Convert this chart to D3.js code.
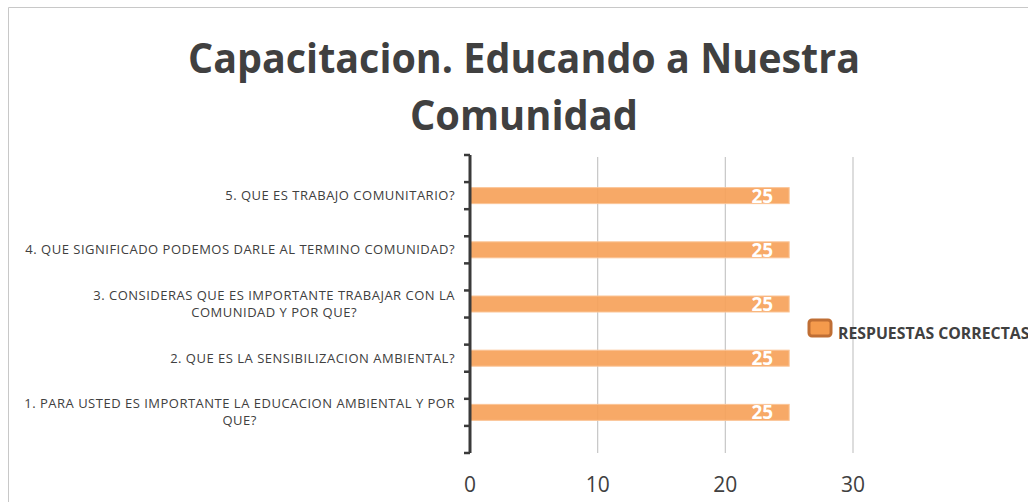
<!DOCTYPE html>
<html>
<head>
<meta charset="utf-8">
<script src="https://cdn.jsdelivr.net/npm/d3@7"></script>
<style>
  body { margin: 0; background: #fff; }
  text { font-family: "Open Sans", sans-serif; }
</style>
</head>
<body>
<div id="chart"></div>
<script>
// chart data
var categories = [
  "1. PARA USTED ES IMPORTANTE LA EDUCACION AMBIENTAL Y POR QUE?",
  "2. QUE ES LA SENSIBILIZACION AMBIENTAL?",
  "3. CONSIDERAS QUE ES IMPORTANTE TRABAJAR CON LA COMUNIDAD Y POR QUE?",
  "4. QUE SIGNIFICADO PODEMOS DARLE AL TERMINO COMUNIDAD?",
  "5. QUE ES TRABAJO COMUNITARIO?"
]
var values = [25, 25, 25, 25, 25]
var xTicks = [0, 10, 20, 30]
var seriesName = "RESPUESTAS CORRECTAS"
var titleLines = ["Capacitacion. Educando a Nuestra", "Comunidad"]

var W = 1028, H = 502
var textColor = "#404040"

var svg = d3.select("#chart").append("svg")
  .attr("width", W)
  .attr("height", H)

// outer border of the chart area
svg.append("path")
  .attr("d", "M8.5," + H + "V7.5H" + W)
  .attr("fill", "none")
  .attr("stroke", "#c8c8c8")

// plot area
var plotLeft = 470, plotRight = 853, plotTop = 155, plotBottom = 453

var x = d3.scaleLinear().domain([0, 30]).range([plotLeft, plotRight])

// tick slots along the category axis (11 intervals)
var slot = d3.scaleLinear().domain([0, 11]).range([plotTop, plotBottom])

// bars sit on the odd half slots, top item first
var y = d3.scalePoint()
  .domain(categories.slice().reverse())
  .range([slot(1.5), slot(9.5)])

// gridlines
svg.append("g")
  .selectAll("line")
  .data(xTicks.filter(function(d){ return d > 0 }))
  .enter().append("line")
  .attr("x1", function(d){ return x(d) })
  .attr("x2", function(d){ return x(d) })
  .attr("y1", plotTop + 2)
  .attr("y2", plotBottom)
  .attr("stroke", "#c6c6c6")
  .attr("stroke-width", 1.2)

// bars
var barH = 16
svg.append("g")
  .selectAll("rect")
  .data(categories)
  .enter().append("rect")
  .attr("x", x(0))
  .attr("y", function(d){ return y(d) - barH / 2 })
  .attr("width", function(d, i){ return x(values[i]) - x(0) })
  .attr("height", barH)
  .attr("fill", "#f6a35b")
  .attr("fill-opacity", 0.93)
  .attr("stroke", "#fbc597")
  .attr("stroke-width", 1)

// value labels
svg.append("g")
  .selectAll("text")
  .data(categories)
  .enter().append("text")
  .attr("x", function(d, i){ return x(values[i]) - 16 })
  .attr("y", function(d){ return y(d) + 7 })
  .attr("text-anchor", "end")
  .attr("fill", "#fff")
  .attr("font-weight", "bold")
  .attr("font-size", "19px")
  .text(function(d, i){ return values[i] })

// category axis line and ticks
svg.append("line")
  .attr("x1", plotLeft).attr("x2", plotLeft)
  .attr("y1", plotTop).attr("y2", plotBottom)
  .attr("stroke", "#3a3a3a")
  .attr("stroke-width", 3)

svg.append("g")
  .selectAll("line")
  .data(d3.range(12))
  .enter().append("line")
  .attr("x1", plotLeft - 6)
  .attr("x2", plotLeft)
  .attr("y1", function(d){ return slot(d) })
  .attr("y2", function(d){ return slot(d) })
  .attr("stroke", "#3a3a3a")
  .attr("stroke-width", 2.5)

// category labels, wrapped
var labelSize = 13, labelSpacing = 0.5, lineH = 17

function wrapWords(str, maxW) {
  var probe = svg.append("text")
    .attr("font-size", labelSize + "px")
    .attr("letter-spacing", labelSpacing)
  var words = str.split(" "), lines = [], line = []
  words.forEach(function(w){
    line.push(w)
    probe.text(line.join(" "))
    if (probe.node().getComputedTextLength() > maxW && line.length > 1) {
      line.pop()
      lines.push(line.join(" "))
      line = [w]
    }
  })
  lines.push(line.join(" "))
  probe.remove()
  return lines
}

categories.forEach(function(c){
  var lines = wrapWords(c, 440)
  var t = svg.append("text")
    .attr("font-size", labelSize + "px")
    .attr("letter-spacing", labelSpacing)
    .attr("fill", textColor)
  var y0 = y(c) - (lines.length - 1) * lineH / 2 + 4.5
  // first line flush right, following lines centred under it
  var w0
  lines.forEach(function(l, k){
    var ts = t.append("tspan").attr("y", y0 + k * lineH).text(l)
    if (k == 0) {
      ts.attr("x", 455).attr("text-anchor", "end")
      w0 = ts.node().getComputedTextLength()
    } else {
      ts.attr("x", 455 - w0 / 2).attr("text-anchor", "middle")
    }
  })
})

// value axis tick labels
svg.append("g")
  .selectAll("text")
  .data(xTicks)
  .enter().append("text")
  .attr("x", function(d){ return x(d) })
  .attr("y", 492)
  .attr("text-anchor", "middle")
  .attr("font-size", "21px")
  .attr("fill", textColor)
  .text(function(d){ return d })

// title
var titleW = [672, 228]
titleLines.forEach(function(l, i){
  svg.append("text")
    .attr("x", 524)
    .attr("y", 73 + i * 57)
    .attr("text-anchor", "middle")
    .attr("font-size", "42px")
    .attr("font-weight", "bold")
    .attr("fill", textColor)
    .attr("textLength", titleW[i])
    .attr("lengthAdjust", "spacingAndGlyphs")
    .text(l)
})

// legend
svg.append("rect")
  .attr("x", 809).attr("y", 320)
  .attr("width", 22).attr("height", 16)
  .attr("rx", 3)
  .attr("fill", "#f49a4c")
  .attr("stroke", "#bf6e34")
  .attr("stroke-width", 3)

svg.append("text")
  .attr("x", 838)
  .attr("y", 339)
  .attr("font-size", "15.8px")
  .attr("font-weight", "bold")
  .attr("fill", textColor)
  .text(seriesName)
</script>
</body>
</html>
